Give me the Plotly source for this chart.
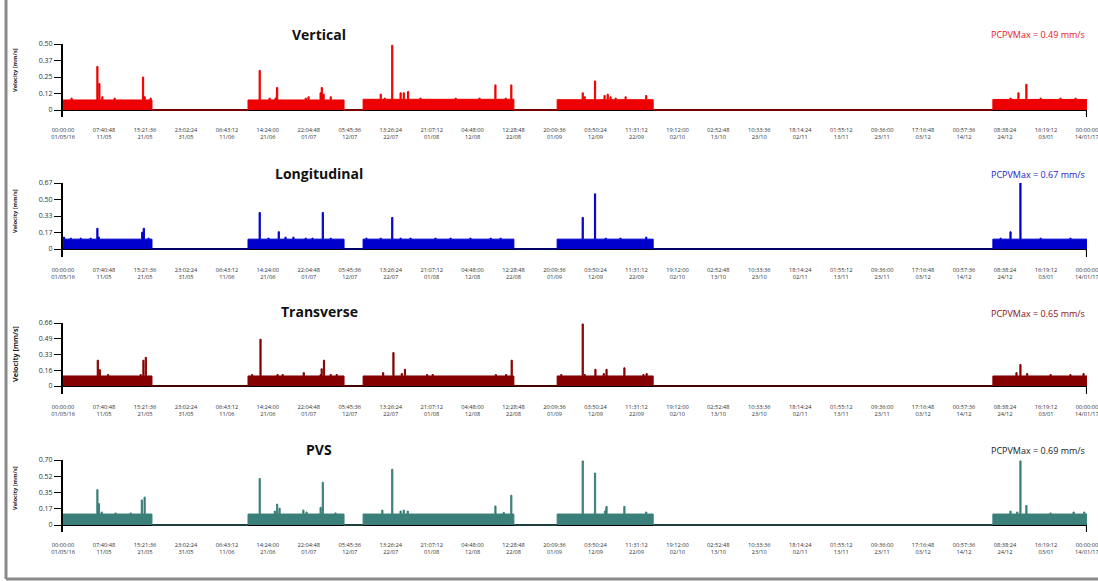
import pandas as pd
import plotly.graph_objects as go

# ---------------- data ----------------
START = pd.Timestamp("2016-05-01 00:00:00")
END = pd.Timestamp("2017-01-14 00:00:00")

TICK_TIMES = ["00:00:00", "07:40:48", "15:21:36", "23:02:24", "06:43:12", "14:24:00",
              "22:04:48", "05:45:36", "13:26:24", "21:07:12", "04:48:00", "12:28:48",
              "20:09:36", "03:50:24", "11:31:12", "19:12:00", "02:52:48", "10:33:36",
              "18:14:24", "01:55:12", "09:36:00", "17:16:48", "00:57:36", "08:38:24",
              "16:19:12", "00:00:00"]
TICK_DATES = ["01/05/16", "11/05", "21/05", "31/05", "11/06", "21/06", "01/07", "12/07",
              "22/07", "01/08", "12/08", "22/08", "01/09", "12/09", "22/09", "02/10",
              "13/10", "23/10", "02/11", "13/11", "23/11", "03/12", "14/12", "24/12",
              "03/01", "14/01/17"]

# recording periods (days since 01/05/16)
SEG_START = [0.0, 46.6, 75.6, 124.5, 234.3]
SEG_END = [22.4, 70.8, 113.6, 148.7, 258.0]

SERIES = ["Vertical", "Longitudinal", "Transverse", "PVS"]
PCPV_MAX = [0.49, 0.67, 0.65, 0.69]

VERT_BASE = [0.076, 0.076, 0.081, 0.078, 0.080]
VERT_DAY = [2.0, 8.5, 9.0, 9.75, 12.85, 20.0, 20.4, 21.9,
            49.4, 51.9, 53.4, 53.8, 61.0, 61.7, 64.75, 65.05, 65.5, 67.3,
            79.9, 80.9, 82.8, 84.9, 85.7, 86.8, 89.9, 98.8, 104.8, 108.8, 111.4, 112.8,
            130.8, 131.3, 133.9, 136.3, 137.1, 137.8, 139.1, 141.6, 146.8,
            238.6, 240.6, 242.6, 246.2, 251.2, 255.0]
VERT_VAL = [0.09, 0.33, 0.20, 0.10, 0.09, 0.25, 0.10, 0.09,
            0.30, 0.09, 0.09, 0.17, 0.09, 0.10, 0.13, 0.17, 0.12, 0.10,
            0.12, 0.09, 0.49, 0.13, 0.13, 0.14, 0.09, 0.09, 0.09, 0.19, 0.09, 0.19,
            0.13, 0.10, 0.22, 0.11, 0.12, 0.10, 0.09, 0.10, 0.11,
            0.09, 0.13, 0.195, 0.09, 0.09, 0.09]

LONG_BASE = [0.10, 0.10, 0.10, 0.10, 0.10]
LONG_DAY = [0.1, 1.8, 4.3, 6.8, 8.5, 8.85, 19.8, 20.2, 21.4,
            49.4, 51.6, 54.2, 55.9, 57.9, 61.0, 62.7, 65.3, 67.3,
            76.3, 79.9, 82.8, 84.9, 87.4, 93.7, 97.5, 102.5, 107.6, 110.1,
            130.8, 133.9, 136.6, 140.3, 146.8,
            236.1, 238.6, 241.1, 246.2, 253.7]
LONG_VAL = [0.12, 0.11, 0.11, 0.11, 0.21, 0.12, 0.17, 0.21, 0.11,
            0.37, 0.11, 0.175, 0.12, 0.12, 0.11, 0.11, 0.37, 0.11,
            0.11, 0.11, 0.32, 0.11, 0.11, 0.11, 0.11, 0.11, 0.11, 0.11,
            0.32, 0.56, 0.11, 0.11, 0.12,
            0.11, 0.175, 0.67, 0.11, 0.11]

TRANS_BASE = [0.105, 0.105, 0.105, 0.105, 0.105]
TRANS_DAY = [8.6, 9.1, 11.2, 19.4, 20.1, 20.7,
             47.5, 49.6, 53.9, 55.2, 60.5, 64.75, 65.0, 65.6, 67.3, 68.8,
             80.5, 83.1, 85.2, 86.0, 91.6, 93.0, 108.9, 111.5, 112.9,
             125.4, 130.8, 131.3, 134.0, 136.1, 136.8, 141.3, 146.1, 146.9,
             240.1, 241.1, 242.8, 248.7, 253.7, 257.0]
TRANS_VAL = [0.27, 0.17, 0.12, 0.12, 0.27, 0.30,
             0.12, 0.49, 0.12, 0.12, 0.14, 0.12, 0.18, 0.27, 0.12, 0.12,
             0.14, 0.35, 0.13, 0.175, 0.12, 0.12, 0.12, 0.12, 0.27,
             0.12, 0.65, 0.12, 0.175, 0.13, 0.175, 0.19, 0.12, 0.13,
             0.14, 0.225, 0.13, 0.12, 0.12, 0.13]

PVS_BASE = [0.118, 0.118, 0.118, 0.118, 0.118]
PVS_DAY = [8.5, 8.9, 9.6, 13.1, 16.9, 19.7, 20.4,
           49.4, 53.2, 53.8, 54.4, 60.4, 61.2, 64.75, 65.3, 68.5,
           80.3, 82.8, 84.9, 85.7, 86.7, 108.8, 110.9, 112.8,
           130.8, 133.9, 136.4, 136.8, 141.3, 146.8,
           238.6, 240.3, 241.1, 242.6, 248.7, 254.5, 257.2]
PVS_VAL = [0.38, 0.23, 0.14, 0.13, 0.13, 0.27, 0.30,
           0.50, 0.15, 0.225, 0.18, 0.16, 0.14, 0.19, 0.46, 0.13,
           0.16, 0.60, 0.15, 0.16, 0.15, 0.205, 0.135, 0.32,
           0.69, 0.56, 0.15, 0.20, 0.20, 0.14,
           0.15, 0.14, 0.69, 0.21, 0.13, 0.14, 0.14]

Y_TICKVALS = [[0, 0.125, 0.25, 0.375, 0.50],
              [0, 0.1675, 0.335, 0.5025, 0.67],
              [0, 0.165, 0.33, 0.495, 0.66],
              [0, 0.175, 0.35, 0.525, 0.70]]
Y_TICKTEXT = [["0", "0.12", "0.25", "0.37", "0.50"],
              ["0", "0.17", "0.33", "0.50", "0.67"],
              ["0", "0.16", "0.33", "0.49", "0.66"],
              ["0", "0.17", "0.35", "0.52", "0.70"]]

# ---------------- styling ----------------
COLORS = ["#ee0000", "#0000cc", "#850000", "#3b7f7a"]
LABEL_COLORS = ["#e8141b", "#1a1acc", "#8b1010", "#222222"]
W, H = 1098, 581
X0_PX, X1_PX = 63, 1087
PANEL_TOP_PX = [44, 183, 323, 460]
PANEL_ZERO_PX = [110, 249, 386, 525]
PANEL_BOT_PX = [117, 257, 394, 532]
TITLE_Y_PX = [34, 173, 311, 449]
PCPV_Y_PX = [35, 174, 313, 450]
YTITLE_Y_PX = [70, 211, 354, 488]
YTITLE_SIZE = [5.6, 5.6, 7.2, 5.6]
FONT = "Open Sans"


def build(base, sdays, svals, w=0.3):
    xs, ys = [], []
    for k, (a, b) in enumerate(zip(SEG_START, SEG_END)):
        xs += [a, a]
        ys += [0, base[k]]
        spikes = sorted((d, v) for d, v in zip(sdays, svals) if a <= d <= b)
        for d, v in spikes:
            e = min(d + w, b)
            xs += [d, d, e, e]
            ys += [base[k], v, v, base[k]]
        xs += [b, b]
        ys += [base[k], 0]
    return [START + pd.Timedelta(days=x) for x in xs], ys


data = [(VERT_BASE, VERT_DAY, VERT_VAL), (LONG_BASE, LONG_DAY, LONG_VAL),
        (TRANS_BASE, TRANS_DAY, TRANS_VAL), (PVS_BASE, PVS_DAY, PVS_VAL)]

n_ticks = len(TICK_TIMES)
tickvals = [START + (END - START) * i / (n_ticks - 1) for i in range(n_ticks)]
ticktext = [f"{t}<br>{d}" for t, d in zip(TICK_TIMES, TICK_DATES)]

fig = go.Figure()
layout = dict(template="none", width=W, height=H, autosize=False,
              margin=dict(l=0, r=0, t=0, b=0, pad=0),
              paper_bgcolor="white", plot_bgcolor="white", showlegend=False,
              font=dict(family=FONT, color="#333"))
annotations, shapes = [], []

for i, name in enumerate(SERIES):
    xs, ys = build(*data[i])
    sfx = "" if i == 0 else str(i + 1)
    fig.add_trace(go.Scatter(x=xs, y=ys, mode="lines", fill="tozeroy",
                             line=dict(color=COLORS[i], width=1), fillcolor=COLORS[i],
                             xaxis="x" + sfx, yaxis="y" + sfx, hoverinfo="skip"))
    ymax = Y_TICKVALS[i][-1]
    scale = (PANEL_ZERO_PX[i] - PANEL_TOP_PX[i]) / ymax
    ymin = -(PANEL_BOT_PX[i] - PANEL_ZERO_PX[i]) / scale
    layout["xaxis" + sfx] = dict(
        type="date", domain=[X0_PX / W, X1_PX / W], anchor="y" + sfx,
        range=[START - pd.Timedelta(minutes=30), END + pd.Timedelta(minutes=30)],
        tickvals=tickvals, ticktext=ticktext, tickfont=dict(size=5.7, color="#333"),
        ticks="outside", ticklen=7, tickcolor="rgba(0,0,0,0)", showgrid=False,
        showline=False, zeroline=False, fixedrange=True, automargin=False,
        ticklabeloverflow="allow")
    layout["yaxis" + sfx] = dict(
        domain=[1 - PANEL_BOT_PX[i] / H, 1 - PANEL_TOP_PX[i] / H], anchor="x" + sfx,
        range=[ymin, ymax], tickvals=Y_TICKVALS[i], ticktext=Y_TICKTEXT[i],
        tickfont=dict(size=7, color="#333"), ticks="outside", ticklen=7,
        tickcolor="black", tickwidth=1, showline=True, linecolor="black", linewidth=2,
        showgrid=False, zeroline=True, zerolinecolor="black", zerolinewidth=2,
        fixedrange=True, automargin=False)
    # right-end marker below zero
    shapes.append(dict(type="line", xref="x" + sfx, yref="y" + sfx, x0=END, x1=END,
                       y0=ymin, y1=0, line=dict(color="black", width=2)))
    annotations.append(dict(text=f"<b>{name}</b>", x=319 / W, y=1 - TITLE_Y_PX[i] / H,
                            xref="paper", yref="paper", xanchor="center", yanchor="middle",
                            showarrow=False, font=dict(size=14, color="#111", family=FONT)))
    annotations.append(dict(text=f"PCPVMax = {PCPV_MAX[i]:.2f} mm/s", x=X1_PX / W,
                            y=1 - PCPV_Y_PX[i] / H, xref="paper", yref="paper",
                            xanchor="right", yanchor="middle", showarrow=False,
                            font=dict(size=9, color=LABEL_COLORS[i], family=FONT)))
    annotations.append(dict(text="<b>Velocity [mm/s]</b>", x=15 / W,
                            y=1 - YTITLE_Y_PX[i] / H, xref="paper", yref="paper",
                            xanchor="center", yanchor="middle", textangle=-90,
                            showarrow=False,
                            font=dict(size=YTITLE_SIZE[i], color="#222", family=FONT)))

# frame (left and bottom edge)
shapes.append(dict(type="line", xref="paper", yref="paper", x0=6 / W, x1=6 / W,
                   y0=1 - 579 / H, y1=1, line=dict(color="#8a8a8a", width=3)))
shapes.append(dict(type="line", xref="paper", yref="paper", x0=6 / W, x1=1,
                   y0=1 - 579 / H, y1=1 - 579 / H, line=dict(color="#8a8a8a", width=3)))

layout["annotations"] = annotations
layout["shapes"] = shapes
fig.update_layout(**layout)
fig.write_html("out.html", config={"displayModeBar": False, "staticPlot": True},
               post_script="document.body.style.margin='0';document.body.style.overflow='hidden';")
